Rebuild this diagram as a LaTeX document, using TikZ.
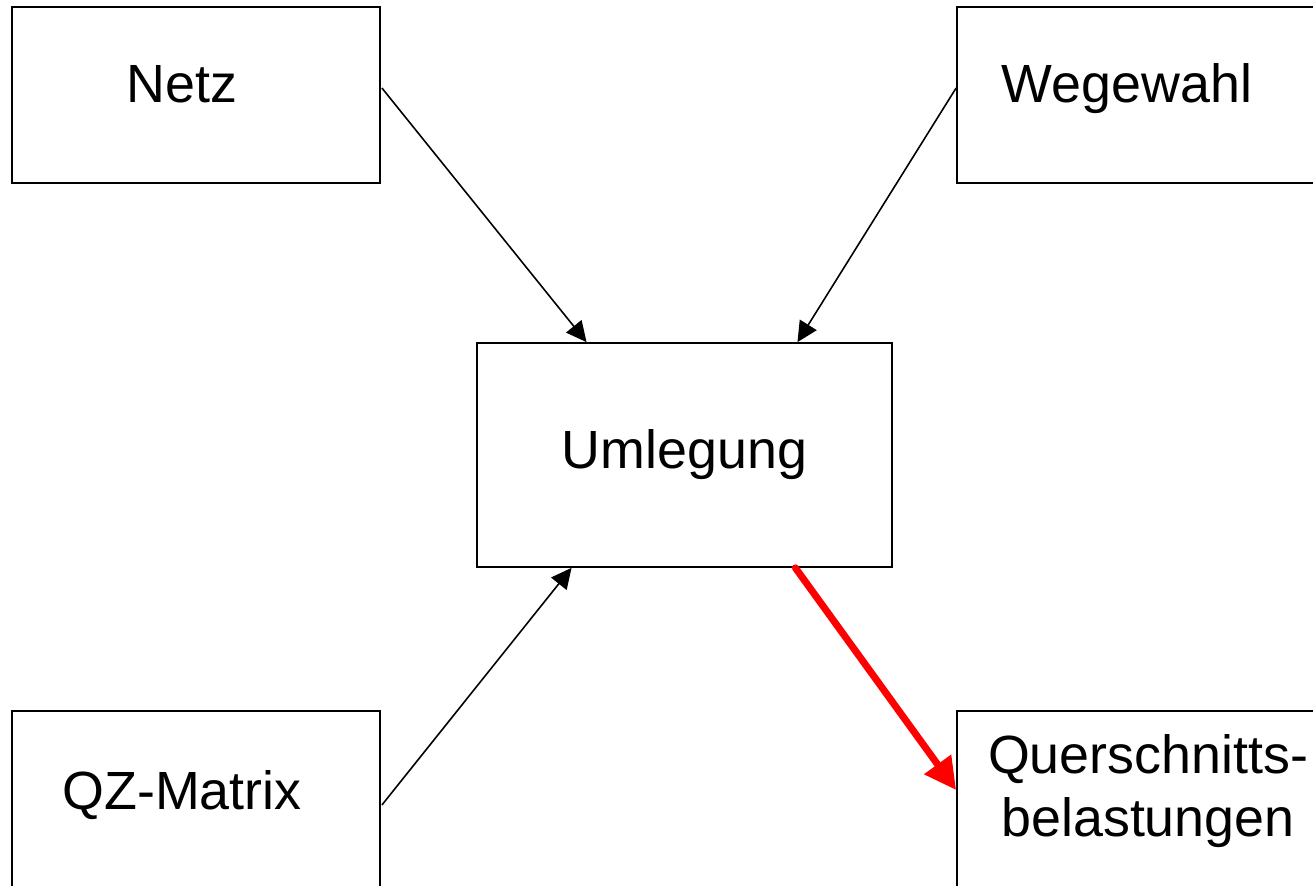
\documentclass[tikz,border=0pt]{standalone}
\usepackage{fontspec}
\setmainfont{Liberation Sans}
\usetikzlibrary{arrows.meta,calc}
\begin{document}
\begin{tikzpicture}[x=0.01cm,y=-0.01cm,
 box/.style={draw,line width=0.45pt,minimum width=3.68cm,minimum height=1.76cm,
  inner sep=0pt,font=\fontsize{15.3}{18}\selectfont,align=center},
 flow/.style={line width=0.45pt,-{Triangle[length=5.8pt,width=5.6pt]}},
 result/.style={draw=red,line width=2pt,line cap=round,-{Triangle[length=9pt,width=9pt]}}]
\clip (0,0) rectangle (1313,885);
\node [box,text depth=0.22cm] (netz) at (196,95) {Netz\hspace{0.28cm}};
\node [box,text depth=0.23cm] (wege) at (1141,95) {Wegewahl\hspace{0.28cm}};
\node [box,minimum width=4.15cm,minimum height=2.24cm] (uml) at (684.5,455) {Umlegung};
\node [box,text depth=0.18cm] (qz) at (196,799) {QZ-Matrix\hspace{0.28cm}};
\node [box,text depth=0.27cm] (quer) at (1141,799) {\hspace{0.14cm}Querschnitts-\\\hspace{0.14cm}belastungen};
\draw [flow] ($(netz.east)+(1,-7)$) -- ($(uml.north west)!0.265!(uml.north east)$);
\draw [flow] ($(wege.west)+(0,-7)$) -- ($(uml.north west)!0.771!(uml.north east)$);
\draw [flow] ($(qz.east)+(1,6)$) -- ($(uml.south west)!0.229!(uml.south east)$);
\draw [result] ($(uml.south west)!0.766!(uml.south east)$) -- ($(quer.west)+(0,-9)$);
\end{tikzpicture}
\end{document}
